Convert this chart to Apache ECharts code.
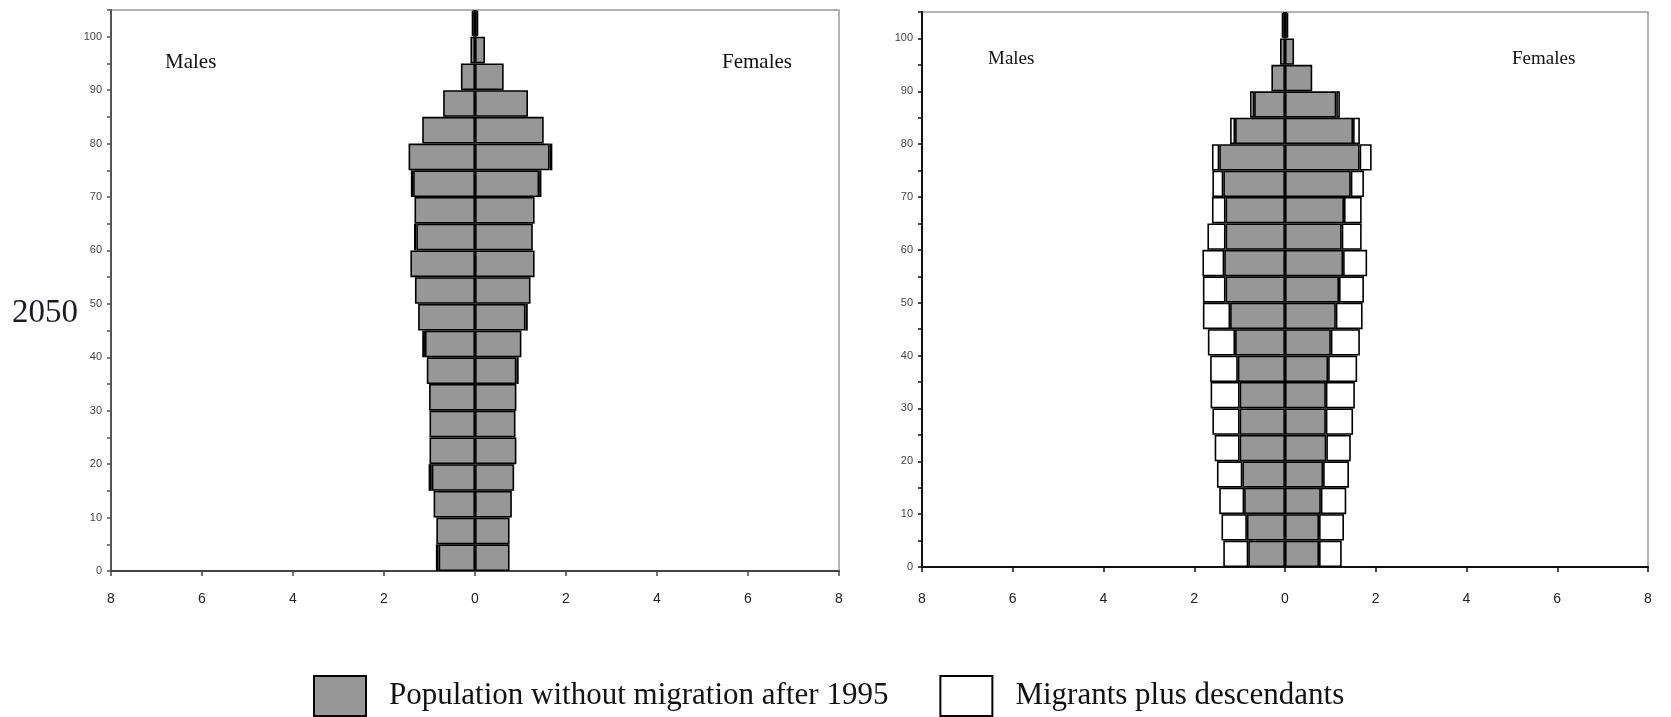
<!DOCTYPE html>
<html>
<head>
<meta charset="utf-8">
<script src="https://cdn.jsdelivr.net/npm/echarts@6/dist/echarts.min.js"></script>
<style>
  html, body { margin: 0; padding: 0; background: #fff; }
  #chart { width: 1671px; height: 717px; }
</style>
</head>
<body>
<div id="chart"></div>
<script>
// Age groups, bottom to top (five-year bands, last one open-ended)
const ageGroups = ['0-4','5-9','10-14','15-19','20-24','25-29','30-34','35-39','40-44','45-49',
                   '50-54','55-59','60-64','65-69','70-74','75-79','80-84','85-89','90-94','95-99','100+'];

// Population shares in 2050 (per cent), left panel
const leftMaleBase   = [0.80,0.85,0.91,0.95,1.00,1.00,1.01,1.06,1.10,1.25,1.32,1.42,1.29,1.33,1.36,1.46,1.16,0.70,0.31,0.10,0.04];
const leftMaleMigr   = [0.06,0,0,0.07,0,0,0,0,0.06,0,0,0,0.05,0,0.05,0,0,0,0,0,0.03];
const leftFemaleBase = [0.76,0.76,0.81,0.86,0.91,0.89,0.91,0.91,1.02,1.11,1.22,1.31,1.27,1.31,1.41,1.64,1.51,1.165,0.63,0.22,0.04];
const leftFemaleMigr = [0,0,0,0,0,0,0,0.05,0,0.05,0,0,0,0,0.05,0.06,0,0,0,0,0.03];

// Right panel
const rightMaleBase   = [0.81,0.84,0.90,0.94,1.00,1.00,1.00,1.04,1.10,1.21,1.31,1.34,1.31,1.31,1.36,1.45,1.10,0.68,0.30,0.11,0.04];
const rightMaleMigr   = [0.55,0.56,0.55,0.56,0.55,0.60,0.64,0.61,0.60,0.60,0.50,0.48,0.40,0.30,0.24,0.16,0.11,0.09,0,0,0.03];
const rightFemaleBase = [0.75,0.75,0.79,0.84,0.91,0.90,0.90,0.95,1.01,1.12,1.19,1.28,1.25,1.30,1.45,1.645,1.50,1.13,0.60,0.20,0.04];
const rightFemaleMigr = [0.50,0.55,0.56,0.57,0.54,0.60,0.64,0.64,0.64,0.59,0.55,0.53,0.44,0.39,0.29,0.265,0.15,0.08,0,0,0.03];

// Axis tick labels
const xTickLabels = ['8','6','4','2','0','2','4','6','8'];
const ageTickLabels = ['0','10','20','30','40','50','60','70','80','90','100'];

const seriesNames = ['Population without migration after 1995', 'Migrants plus descendants'];

const GREY = '#979797';
const BORDER = { borderColor: '#000', borderWidth: 1.6 };

function asBar(values, sign) {
  return values.map(v => (v === 0 ? '-' : sign * v));
}

function panelSeries(idx, mBase, mMigr, fBase, fMigr) {
  const common = {
    type: 'bar',
    xAxisIndex: idx,
    yAxisIndex: idx * 2,
    barGap: '-100%',
    barCategoryGap: '0%',
    silent: true
  };
  return [
    Object.assign({}, common, { name: seriesNames[0], stack: 'm' + idx, data: asBar(mBase, -1),
      itemStyle: Object.assign({ color: GREY }, BORDER) }),
    Object.assign({}, common, { name: seriesNames[1], stack: 'm' + idx, data: asBar(mMigr, -1),
      itemStyle: Object.assign({ color: '#fff' }, BORDER) }),
    Object.assign({}, common, { name: seriesNames[0], stack: 'f' + idx, data: asBar(fBase, 1),
      itemStyle: Object.assign({ color: GREY }, BORDER) }),
    Object.assign({}, common, { name: seriesNames[1], stack: 'f' + idx, data: asBar(fMigr, 1),
      itemStyle: Object.assign({ color: '#fff' }, BORDER) })
  ];
}

function valueX(gridIndex, axisColor, margin) {
  return {
    type: 'value', gridIndex: gridIndex, min: -8, max: 8, interval: 2,
    axisLine: { show: true, onZero: false, lineStyle: { color: axisColor, width: 2 } },
    axisTick: { show: true, length: 5, lineStyle: { color: axisColor, width: 1.5 } },
    axisLabel: {
      margin: margin, fontFamily: 'Liberation Sans', fontSize: 14, color: '#222',
      formatter: v => xTickLabels[Math.round((v + 8) / 2)]
    },
    splitLine: { show: false }
  };
}

function ageCat(gridIndex) {
  return { type: 'category', gridIndex: gridIndex, data: ageGroups, show: false, boundaryGap: true };
}

function ageValue(gridIndex, axisColor) {
  return {
    type: 'value', gridIndex: gridIndex, min: 0, max: 105, interval: 5, position: 'left',
    axisLine: { show: true, onZero: false, lineStyle: { color: axisColor, width: 2 } },
    axisTick: { show: true, length: 4, lineStyle: { color: axisColor, width: 1.5 } },
    axisLabel: {
      margin: 9, fontFamily: 'Liberation Sans', fontSize: 11, color: '#444',
      formatter: v => (v % 10 === 0 && v <= 100 ? ageTickLabels[v / 10] : '')
    },
    splitLine: { show: false }
  };
}

const chart = echarts.init(document.getElementById('chart'), null, { renderer: 'canvas' });

chart.setOption({
  animation: false,
  backgroundColor: '#fff',
  grid: [
    { left: 111, top: 10, width: 728, height: 561, show: true, borderColor: '#9a9a9a', borderWidth: 1.5, backgroundColor: '#fff' },
    { left: 922, top: 12, width: 726, height: 555, show: true, borderColor: '#9a9a9a', borderWidth: 1.5, backgroundColor: '#fff' }
  ],
  xAxis: [valueX(0, '#444', 21), valueX(1, '#111', 25)],
  yAxis: [ageCat(0), ageValue(0, '#555'), ageCat(1), ageValue(1, '#111')],
  legend: {
    left: 308, top: 670,
    itemWidth: 52, itemHeight: 40, itemGap: 51,
    icon: 'rect',
    selectedMode: false,
    itemStyle: { borderColor: '#000', borderWidth: 2 },
    textStyle: { fontFamily: 'Liberation Serif', fontSize: 31, color: '#111', padding: [0, 0, 0, 18] },
    data: seriesNames
  },
  graphic: [
    { type: 'text', left: 12, top: 297, style: { text: '2050', font: '33px "Liberation Serif"', fill: '#1a1a2a' } },
    { type: 'text', left: 165, top: 52, style: { text: 'Males', font: '21px "Liberation Serif"', fill: '#111' } },
    { type: 'text', left: 722, top: 52, style: { text: 'Females', font: '21px "Liberation Serif"', fill: '#111' } },
    { type: 'text', left: 988, top: 50, style: { text: 'Males', font: '19px "Liberation Serif"', fill: '#111' } },
    { type: 'text', left: 1512, top: 50, style: { text: 'Females', font: '19px "Liberation Serif"', fill: '#111' } }
  ],
  series: [].concat(
    panelSeries(0, leftMaleBase, leftMaleMigr, leftFemaleBase, leftFemaleMigr),
    panelSeries(1, rightMaleBase, rightMaleMigr, rightFemaleBase, rightFemaleMigr)
  )
});
</script>
</body>
</html>
